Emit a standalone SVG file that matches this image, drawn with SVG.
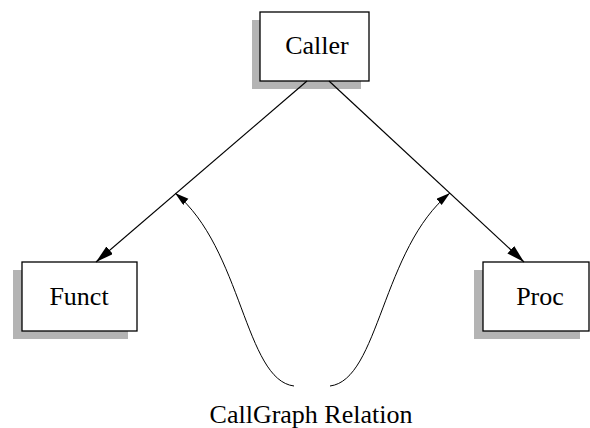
<svg xmlns="http://www.w3.org/2000/svg" width="590" height="428" viewBox="0 0 590 428">
  <style>
    .shadow { fill: #b4b4b4; stroke: none; }
    .box { fill: #ffffff; stroke: #000000; stroke-width: 1.3; }
    .label { font-family: "Liberation Serif", "Times New Roman", serif; font-size: 26px; fill: #000000; text-anchor: middle; }
    .edge { fill: none; stroke: #000000; stroke-width: 1.2; }
    .rel { fill: none; stroke: #000000; stroke-width: 1; }
  </style>
  <defs>
    <marker id="arrowBig" markerUnits="userSpaceOnUse" markerWidth="20" markerHeight="12" refX="18" refY="5" orient="auto">
      <path d="M0,0 L18,5 L0,10 Z" fill="#000000"/>
    </marker>
    <marker id="arrowSmall" markerUnits="userSpaceOnUse" markerWidth="16" markerHeight="10" refX="14" refY="4" orient="auto">
      <path d="M0,0 L14,4 L0,8 Z" fill="#000000"/>
    </marker>
  </defs>

  <rect width="590" height="428" fill="#ffffff"/>

  <g id="node-caller">
    <rect class="shadow" x="252" y="20" width="109" height="69"/>
    <rect class="box" x="260" y="12" width="109" height="69"/>
    <text class="label" x="317" y="54">Caller</text>
  </g>

  <g id="node-funct">
    <rect class="shadow" x="13" y="270" width="115" height="69"/>
    <rect class="box" x="22" y="262" width="115" height="69"/>
    <text class="label" x="79" y="305">Funct</text>
  </g>

  <g id="node-proc">
    <rect class="shadow" x="474" y="270" width="106" height="69"/>
    <rect class="box" x="483" y="262" width="106" height="69"/>
    <text class="label" x="540" y="305">Proc</text>
  </g>

  <g id="connectors">
    <line class="edge" x1="307" y1="81" x2="96" y2="262" marker-end="url(#arrowBig)"/>
    <line class="edge" x1="329" y1="81" x2="524" y2="262" marker-end="url(#arrowBig)"/>
    <path class="rel" d="M294,386 C245,380 242,248 175,193" marker-end="url(#arrowSmall)"/>
    <path class="rel" d="M330,386 C379,380 382,248 450,193" marker-end="url(#arrowSmall)"/>
  </g>

  <g id="relation-label">
    <text class="label" x="311" y="423">CallGraph Relation</text>
  </g>
</svg>
